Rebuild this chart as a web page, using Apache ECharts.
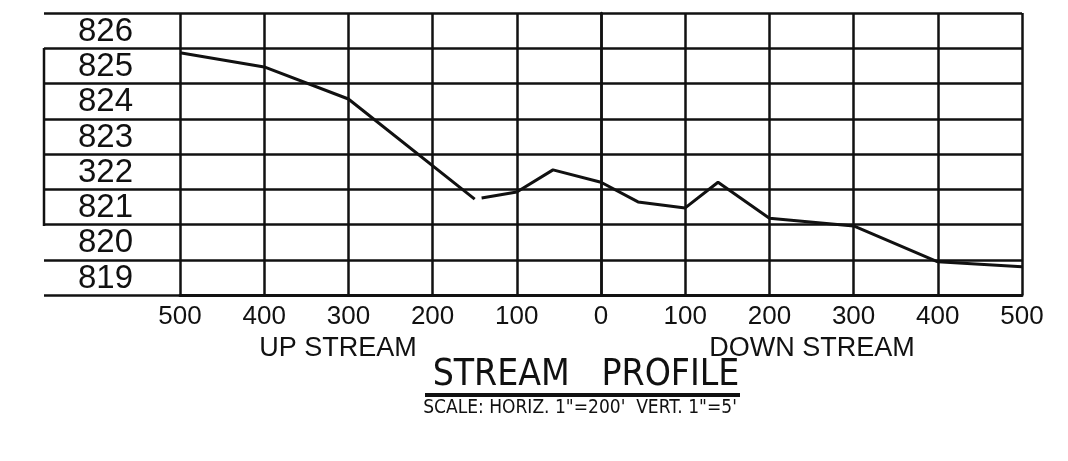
<!DOCTYPE html>
<html>
<head>
<meta charset="utf-8">
<script src="https://cdn.jsdelivr.net/npm/echarts@6/dist/echarts.min.js"></script>
<style>
html,body{margin:0;padding:0;background:#fff;}
#chart{width:1068px;height:461px;}
</style>
</head>
<body>
<div id="chart"></div>
<script>
// Distance from station 0 (negative = up stream, positive = down stream), feet
const distances = [-500, -400, -300, -150, -100, -57, 0, 44, 100, 139, 200, 300, 400, 500];
// Stream bed elevation, feet
const elevations = [825.87, 825.47, 824.56, 821.72, 821.92, 822.55, 822.2, 821.64, 821.47, 822.2, 821.18, 820.96, 819.94, 819.8];
// Tick labels
const xTickLabels = ['500', '400', '300', '200', '100', '0', '100', '200', '300', '400', '500'];
const xTickValues = [-500, -400, -300, -200, -100, 0, 100, 200, 300, 400, 500];
const yTickValues = [819, 820, 821, 822, 823, 824, 825, 826];
const yTickLabels = ['819', '820', '821', '322', '823', '824', '825', '826'];
const titleText = 'STREAM   PROFILE';
const subtitleText = "SCALE: HORIZ. 1\"=200'  VERT. 1\"=5'";
const upLabel = 'UP STREAM';
const downLabel = 'DOWN STREAM';

const pts = distances.map((d, i) => [d, elevations[i]]);
const gapIdx = distances.indexOf(-150);

const INK = '#111';
const FONT = '"Liberation Sans", Arial, sans-serif';
const NARROW = '"Liberation Sans Narrow", "DejaVu Sans Condensed", "Liberation Sans", sans-serif';
const GRIDLINE = {color: INK, width: 2.5};

const chart = echarts.init(document.getElementById('chart'), null, {renderer: 'canvas'});
const lineBase = {type: 'line', symbol: 'none', smooth: false, silent: true, animation: false, xAxisIndex: 1, yAxisIndex: 1};
chart.setOption({
  backgroundColor: '#fff',
  animation: false,
  grid: [
    {left: 44, width: 136, top: 13, bottom: 166},
    {left: 180, right: 46, top: 13, bottom: 166}
  ],
  xAxis: [
    {gridIndex: 0, type: 'value', min: 0, max: 1, show: false},
    {
      gridIndex: 1, type: 'value', min: -500, max: 500, interval: 100,
      axisLine: {show: true, lineStyle: {color: INK, width: 3}},
      axisTick: {show: false},
      splitLine: {show: true, lineStyle: GRIDLINE},
      axisLabel: {
        margin: 9, fontSize: 26, color: INK, fontFamily: FONT,
        formatter: v => xTickLabels[xTickValues.indexOf(v)] ?? ''
      }
    }
  ],
  yAxis: [
    {
      gridIndex: 0, type: 'value', min: 819, max: 827, interval: 1,
      axisLine: {show: false}, axisTick: {show: false}, axisLabel: {show: false},
      splitLine: {show: true, lineStyle: GRIDLINE}
    },
    {
      gridIndex: 1, type: 'value', min: 819, max: 827, interval: 1,
      axisLine: {show: true, lineStyle: GRIDLINE},
      axisTick: {show: false},
      splitLine: {show: true, lineStyle: GRIDLINE},
      axisLabel: {
        margin: 47, fontSize: 33, color: INK, fontFamily: FONT, align: 'right', verticalAlign: 'bottom',
        formatter: v => { const i = yTickValues.indexOf(v); return i >= 0 ? yTickLabels[i] : ''; }
      }
    }
  ],
  series: [
    Object.assign({}, lineBase, {data: pts.slice(0, gapIdx + 1), lineStyle: {color: INK, width: 3}}),
    Object.assign({}, lineBase, {data: pts.slice(gapIdx, gapIdx + 2), lineStyle: {color: INK, width: 3, type: [0, 7, 36, 200]}}),
    Object.assign({}, lineBase, {data: pts.slice(gapIdx + 1), lineStyle: {color: INK, width: 3}})
  ],
  graphic: [
    {type: 'line', shape: {x1: 44, y1: 48, x2: 44, y2: 226}, style: {stroke: INK, lineWidth: 2.5}, silent: true},
    {type: 'text', style: {text: upLabel, x: 338, y: 349, align: 'center', verticalAlign: 'middle', fontSize: 27, fill: INK, fontFamily: FONT}},
    {type: 'text', style: {text: downLabel, x: 812, y: 349, align: 'center', verticalAlign: 'middle', fontSize: 27, fill: INK, fontFamily: FONT}},
    {type: 'text', style: {text: titleText, x: 586, y: 394, align: 'center', verticalAlign: 'bottom', fontSize: 37, fill: INK, fontFamily: NARROW}},
    {type: 'line', shape: {x1: 425, y1: 395, x2: 740, y2: 395}, style: {stroke: INK, lineWidth: 4}, silent: true},
    {type: 'text', style: {text: subtitleText, x: 580, y: 408, align: 'center', verticalAlign: 'middle', fontSize: 19, fill: INK, fontFamily: NARROW}}
  ]
});
</script>
</body>
</html>
